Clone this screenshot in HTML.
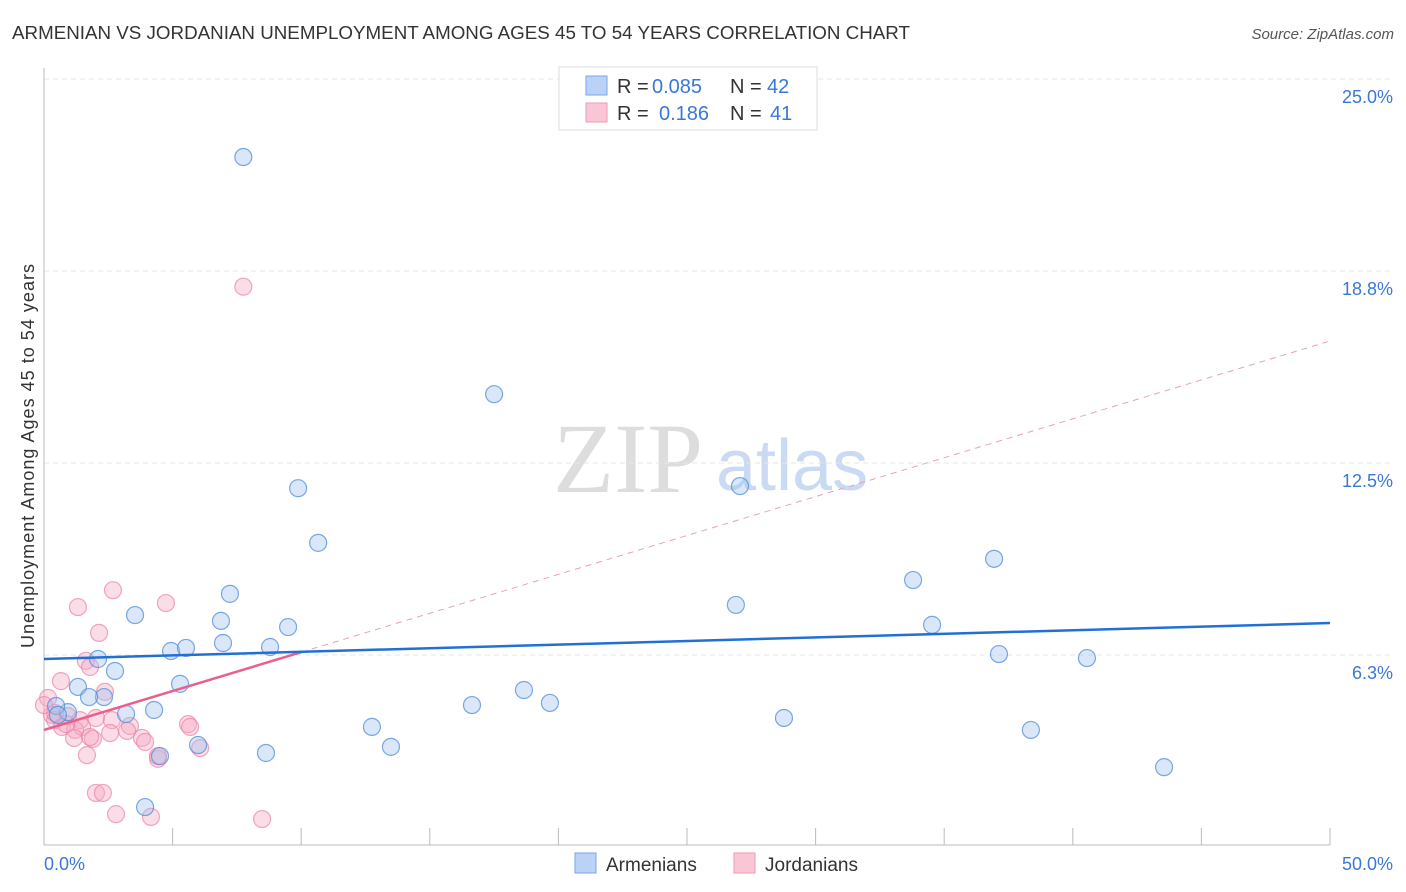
<!DOCTYPE html>
<html><head><meta charset="utf-8">
<style>
body{margin:0;background:#fff;font-family:"Liberation Sans",sans-serif;}
#wrap{position:relative;width:1406px;height:892px;overflow:hidden;}
</style></head>
<body>
<div id="wrap">
<svg id="svg" width="1406" height="892" xmlns="http://www.w3.org/2000/svg">
<text x="12" y="39" font-size="18" fill="#333" textLength="898" lengthAdjust="spacingAndGlyphs">ARMENIAN VS JORDANIAN UNEMPLOYMENT AMONG AGES 45 TO 54 YEARS CORRELATION CHART</text>
<text x="1394" y="39" font-size="15" fill="#555" font-style="italic" text-anchor="end">Source: ZipAtlas.com</text>
<text x="34" y="456" font-size="18" fill="#333" text-anchor="middle" textLength="384" transform="rotate(-90 34 456)">Unemployment Among Ages 45 to 54 years</text>
<text x="553" y="492" font-size="100" fill="#ddd" font-family="Liberation Serif,serif">ZIP</text>
<text x="716" y="490" font-size="72" fill="#c9daf2">atlas</text>
<g id="grid"></g><g id="axes"></g><g id="pts"></g><g id="lines"></g>
<g>
<rect x="559" y="67" width="258" height="63" fill="#fff" stroke="#ddd"/>
<rect x="586" y="76" width="21" height="19" fill="#b9d2f5" stroke="#7aa6e6"/>
<rect x="586" y="103" width="21" height="19" fill="#f9c6d6" stroke="#ee9ab5"/>
<text x="617" y="93" font-size="20" fill="#333">R =</text>
<text x="652" y="93" font-size="20" fill="#3a78d8">0.085</text>
<text x="730" y="93" font-size="20" fill="#333">N =</text>
<text x="767" y="93" font-size="20" fill="#3a78d8">42</text>
<text x="617" y="120" font-size="20" fill="#333">R =</text>
<text x="659" y="120" font-size="20" fill="#3a78d8">0.186</text>
<text x="730" y="120" font-size="20" fill="#333">N =</text>
<text x="770" y="120" font-size="20" fill="#3a78d8">41</text>
</g>
<g>
<rect x="575" y="853" width="21" height="20" fill="#b9d2f5" stroke="#7aa6e6"/>
<text x="606" y="871" font-size="19" fill="#333">Armenians</text>
<rect x="734" y="853" width="21" height="20" fill="#f9c6d6" stroke="#ee9ab5"/>
<text x="765" y="871" font-size="19" fill="#333">Jordanians</text>
</g>
</svg>
</div>
<script>
const yTicks=[6.25,12.5,18.75,25];
const yTickLabels=["6.3%","12.5%","18.8%","25.0%"];
const xTickValues=[0,5,10,15,20,25,30,35,40,45,50];
const armX=[7.75,17.5,9.88,27.06,10.66,36.94,33.79,7.23,26.9,3.54,6.88,9.49,34.53,6.96,4.94,5.52,8.79,37.13,40.55,2.1,2.76,1.32,5.29,2.33,1.75,18.66,16.64,19.67,4.28,3.19,0.93,0.47,0.54,28.77,12.75,38.37,13.49,5.99,4.51,8.63,43.55,3.93];
const armY=[22.46,14.74,11.68,11.75,9.9,9.38,8.69,8.24,7.88,7.55,7.36,7.16,7.23,6.64,6.38,6.48,6.51,6.28,6.15,6.12,5.73,5.21,5.31,4.88,4.88,5.11,4.62,4.69,4.46,4.33,4.39,4.59,4.3,4.2,3.91,3.81,3.26,3.32,2.96,3.06,2.6,1.3];
const jorX=[7.75,2.68,4.74,1.32,2.14,1.63,1.79,0.66,0.16,2.37,0.31,0.43,0.93,1.4,0.7,1.21,1.48,2.02,2.64,3.34,3.23,1.9,1.17,1.79,5.6,5.68,3.81,3.93,6.07,2.57,1.67,4.43,4.43,2.02,2.29,2.8,4.16,8.48,0.86,0.43,0];
const jorY=[18.24,8.36,7.94,7.81,6.97,6.06,5.86,5.4,4.85,5.05,4.3,4.13,4.26,4.13,3.91,3.81,3.91,4.2,4.13,3.94,3.78,3.52,3.55,3.58,4.0,3.91,3.55,3.42,3.22,3.71,2.99,2.87,2.96,1.76,1.76,1.07,0.98,0.91,4.0,4.36,4.62];
const armTrend=[6.12,7.29];
const jorTrend=[3.81,16.47];
const X0=44,X1=1330,Y0=847,PXY=30.72;
const sx=v=>X0+(X1-X0)*v/50;
const sy=v=>Y0-v*PXY;
const NS="http://www.w3.org/2000/svg";
function mk(tag,attrs,parent){const e=document.createElementNS(NS,tag);for(const k in attrs)e.setAttribute(k,attrs[k]);parent.appendChild(e);return e;}
const grid=document.getElementById('grid'),axes=document.getElementById('axes'),pts=document.getElementById('pts'),lines=document.getElementById('lines');
yTicks.forEach((t,i)=>{
 const l=mk('line',{x1:X0,x2:1394,y1:sy(t),y2:sy(t),stroke:'#e6e6e6','stroke-dasharray':'5,4'},grid);
 
 
 const tx=mk('text',{x:1393,y:sy(t)+24,'font-size':18,fill:'#3a78d8','text-anchor':'end'},grid);
 tx.textContent=yTickLabels[i];
 
 
});
const ax=mk('line',{x1:X0,x2:X1,y1:845,y2:845,stroke:'#bbb'},axes);


const ay=mk('line',{x1:X0,x2:X0,y1:68,y2:845,stroke:'#bbb'},axes);


xTickValues.forEach(v=>{
 const t=mk('line',{x1:sx(v),x2:sx(v),y1:828,y2:845,stroke:'#bbb'},axes);
 
 
});
const xl0=mk('text',{x:44,y:870,'font-size':18,fill:'#3a78d8'},axes);xl0.textContent='0.0%';


const xl1=mk('text',{x:1393,y:870,'font-size':18,fill:'#3a78d8','text-anchor':'end'},axes);xl1.textContent='50.0%';


jorX.forEach((x,i)=>{
 const c=mk('circle',{cx:sx(x),cy:sy(jorY[i]),r:8.5,fill:'rgba(246,170,195,0.4)',stroke:'rgba(236,130,165,0.7)','stroke-width':1.2},pts);
 
 
});
armX.forEach((x,i)=>{
 const c=mk('circle',{cx:sx(x),cy:sy(armY[i]),r:8.5,fill:'rgba(160,195,240,0.4)',stroke:'rgba(80,140,220,0.75)','stroke-width':1.2},pts);
 
 
});
const jy=x=>jorTrend[0]+(jorTrend[1]-jorTrend[0])*x/50;
const jd=mk('line',{x1:sx(10),y1:sy(jy(10)),x2:sx(50),y2:sy(jy(50)),stroke:'#eaa0b8','stroke-dasharray':'6,5','stroke-width':1},lines);


const js=mk('line',{x1:sx(0),y1:sy(jy(0)),x2:sx(10),y2:sy(jy(10)),stroke:'#e8608e','stroke-width':2.5},lines);


const bl=mk('line',{x1:sx(0),y1:sy(armTrend[0]),x2:sx(50),y2:sy(armTrend[1]),stroke:'#2270d6','stroke-width':2.5},lines);


</script>
</body></html>
